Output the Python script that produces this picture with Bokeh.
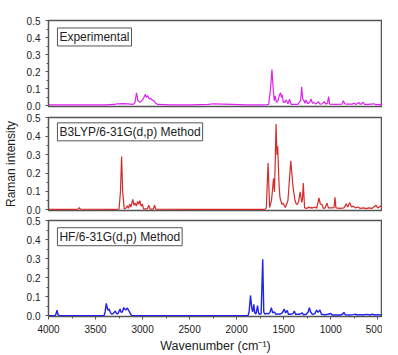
from bokeh.plotting import figure
from bokeh.layouts import column
from bokeh.models import Range1d, FixedTicker, Label, NumeralTickFormatter
from bokeh.embed import file_html
from bokeh.resources import INLINE

# ---------------- data ----------------
exp_wn = [4000, 3800, 3600, 3400, 3300, 3270, 3200, 3130, 3100, 3080, 3065, 3050, 3030, 3000,
          2985, 2970, 2960, 2945, 2930, 2915, 2900, 2880, 2860, 2840, 2700, 2500, 2300, 2250,
          2150, 2050, 1900, 1700, 1660, 1640, 1625, 1612, 1600, 1591, 1578, 1560, 1545, 1533,
          1525, 1516, 1505, 1490, 1472, 1455, 1438, 1420, 1350, 1320, 1309, 1298, 1285, 1274,
          1262, 1245, 1225, 1210, 1195, 1180, 1160, 1132, 1115, 1090, 1070, 1050, 1035, 1023,
          1012, 950, 880, 867, 850, 820, 770, 751, 735, 700, 690, 675, 656, 640, 600, 540,
          520, 500, 450]
exp_int = [0.005, 0.006, 0.005, 0.006, 0.008, 0.012, 0.013, 0.010, 0.008, 0.020, 0.077, 0.030,
           0.020, 0.035, 0.050, 0.068, 0.050, 0.060, 0.040, 0.045, 0.035, 0.030, 0.015, 0.008,
           0.006, 0.005, 0.008, 0.012, 0.010, 0.008, 0.005, 0.005, 0.008, 0.100, 0.213, 0.100,
           0.030, 0.058, 0.020, 0.030, 0.065, 0.077, 0.050, 0.065, 0.020, 0.020, 0.035, 0.012,
           0.039, 0.008, 0.008, 0.030, 0.112, 0.040, 0.030, 0.015, 0.035, 0.012, 0.020, 0.040,
           0.015, 0.020, 0.010, 0.025, 0.010, 0.012, 0.025, 0.010, 0.015, 0.054, 0.010, 0.008,
           0.010, 0.030, 0.012, 0.010, 0.010, 0.016, 0.008, 0.020, 0.010, 0.010, 0.022, 0.008,
           0.008, 0.012, 0.006, 0.008, 0.006]

b3_wn = [4000, 3700, 3685, 3672, 3660, 3300, 3250, 3235, 3223, 3212, 3195, 3175, 3162, 3150,
         3138, 3125, 3104, 3092, 3080, 3066, 3053, 3041, 3029, 3015, 3002, 2990, 2950, 2934,
         2920, 2885, 2873, 2860, 2500, 2000, 1700, 1685, 1666, 1650, 1630, 1608, 1598, 1581,
         1572, 1564, 1550, 1540, 1520, 1506, 1483, 1455, 1425, 1400, 1380, 1365, 1353, 1340,
         1325, 1309, 1300, 1292, 1278, 1250, 1235, 1220, 1205, 1190, 1170, 1150, 1125, 1110,
         1095, 1080, 1060, 1040, 1025, 1000, 965, 955, 945, 900, 860, 836, 820, 798, 780, 760,
         740, 710, 690, 650, 620, 600, 560, 520, 500, 470, 450]
b3_int = [0.002, 0.002, 0.004, 0.012, 0.003, 0.002, 0.004, 0.100, 0.290, 0.100, 0.005, 0.010,
          0.022, 0.008, 0.030, 0.015, 0.057, 0.025, 0.035, 0.020, 0.045, 0.030, 0.050, 0.020,
          0.030, 0.005, 0.005, 0.025, 0.004, 0.004, 0.025, 0.003, 0.002, 0.002, 0.002, 0.010,
          0.254, 0.012, 0.050, 0.170, 0.097, 0.466, 0.300, 0.346, 0.140, 0.067, 0.030, 0.036,
          0.012, 0.050, 0.266, 0.120, 0.050, 0.030, 0.030, 0.050, 0.097, 0.040, 0.060, 0.145,
          0.010, 0.008, 0.015, 0.010, 0.012, 0.010, 0.015, 0.008, 0.064, 0.030, 0.030, 0.008,
          0.010, 0.036, 0.010, 0.010, 0.012, 0.068, 0.010, 0.008, 0.010, 0.032, 0.015, 0.039,
          0.015, 0.020, 0.010, 0.015, 0.008, 0.010, 0.006, 0.010, 0.008, 0.025, 0.010, 0.020,
          0.010]

hf_wn = [4000, 3930, 3920, 3910, 3898, 3880, 3410, 3398, 3386, 3370, 3355, 3340, 3325, 3305,
         3290, 3277, 3264, 3252, 3240, 3228, 3215, 3200, 3190, 3179, 3168, 3162, 3150, 3138,
         3125, 3110, 2000, 1880, 1868, 1853, 1840, 1830, 1818, 1808, 1795, 1785, 1778, 1768,
         1758, 1740, 1723, 1712, 1700, 1680, 1660, 1645, 1631, 1618, 1600, 1585, 1560, 1540,
         1515, 1495, 1480, 1462, 1450, 1420, 1400, 1387, 1375, 1330, 1302, 1290, 1260, 1240,
         1227, 1214, 1195, 1170, 1150, 1135, 1115, 1100, 1060, 1030, 1000, 985, 900, 875, 860,
         845, 800, 760, 740, 720, 690, 660, 620, 580, 560, 530, 500, 450]
hf_int = [0.000, 0.000, 0.010, 0.030, 0.004, 0.000, 0.000, 0.020, 0.065, 0.030, 0.035, 0.015,
          0.008, 0.015, 0.025, 0.012, 0.010, 0.020, 0.035, 0.018, 0.020, 0.043, 0.035, 0.030,
          0.038, 0.040, 0.030, 0.020, 0.006, 0.000, 0.000, 0.000, 0.020, 0.107, 0.040, 0.020,
          0.060, 0.015, 0.010, 0.035, 0.053, 0.015, 0.008, 0.010, 0.298, 0.020, 0.008, 0.012,
          0.010, 0.020, 0.043, 0.015, 0.020, 0.008, 0.010, 0.008, 0.015, 0.035, 0.015, 0.028,
          0.008, 0.008, 0.012, 0.025, 0.008, 0.008, 0.015, 0.005, 0.008, 0.020, 0.043, 0.020,
          0.008, 0.010, 0.030, 0.018, 0.030, 0.008, 0.005, 0.008, 0.012, 0.004, 0.004, 0.008,
          0.018, 0.005, 0.004, 0.006, 0.008, 0.004, 0.006, 0.004, 0.007, 0.004, 0.008, 0.004,
          0.006, 0.004]

panel_titles = ["Experimental", "B3LYP/6-31G(d,p) Method", "HF/6-31G(d,p) Method"]
y_ticks = [0.0, 0.1, 0.2, 0.3, 0.4, 0.5]
y_minor = [0.05, 0.15, 0.25, 0.35, 0.45]
x_ticks = [4000, 3500, 3000, 2500, 2000, 1500, 1000, 500]
x_minor = [3750, 3250, 2750, 2250, 1750, 1250, 750]

FONT = "Liberation Sans"
x_range = Range1d(4000, 450)


def style_axis(ax):
    ax.axis_line_color = "#555555"
    ax.axis_line_width = 1
    ax.major_tick_line_color = "#555555"
    ax.minor_tick_line_color = "#555555"
    ax.major_tick_in = 0
    ax.major_tick_out = 3
    ax.minor_tick_in = 0
    ax.minor_tick_out = 2
    ax.major_label_text_font = FONT
    ax.major_label_text_font_size = "10px"
    ax.major_label_text_color = "#222222"
    ax.major_label_standoff = 5


def panel(xs, ys, color, lw, title, label_y, height, top, bottom, show_x=False, ylabel=None):
    p = figure(width=382, height=height, x_range=x_range,
               y_range=Range1d(-0.004, 0.502),
               output_backend="svg", toolbar_location=None,
               min_border_left=42, min_border_right=0,
               min_border_top=top, min_border_bottom=bottom,
               x_axis_location="below" if show_x else None)
    p.grid.visible = False
    p.outline_line_color = "#555555"
    p.outline_line_width = 1.5
    p.background_fill_color = "white"
    p.border_fill_color = "white"
    p.line(xs, ys, line_color=color, line_width=lw)
    p.yaxis.ticker = FixedTicker(ticks=y_ticks, minor_ticks=y_minor)
    p.yaxis.formatter = NumeralTickFormatter(format="0.0")
    style_axis(p.yaxis[0])
    if ylabel:
        p.yaxis.axis_label = ylabel
        p.yaxis.axis_label_text_font = FONT
        p.yaxis.axis_label_text_font_size = "12px"
        p.yaxis.axis_label_text_font_style = "normal"
        p.yaxis.axis_label_text_color = "#222222"
        p.yaxis.axis_label_standoff = 6
    if show_x:
        p.xaxis.ticker = FixedTicker(ticks=x_ticks, minor_ticks=x_minor)
        style_axis(p.xaxis[0])
        p.xaxis.major_label_standoff = 5
        p.xaxis.axis_label = "Wavenumber (cm\u207b\u00b9)"
        p.xaxis.axis_label_text_font = FONT
        p.xaxis.axis_label_text_font_size = "12.5px"
        p.xaxis.axis_label_text_font_style = "normal"
        p.xaxis.axis_label_text_color = "#222222"
        p.xaxis.axis_label_standoff = 3
    lab = Label(x=3905, y=label_y, text=title, text_font=FONT, text_font_size="12px",
                text_color="#222222", text_align="left", text_baseline="top",
                border_line_color="#555555", border_line_width=1,
                background_fill_color="white", padding=2)
    p.add_layout(lab)
    return p


p1 = panel(exp_wn, exp_int, "#dd22ee", 1.2, panel_titles[0], 0.458, 112, 20, 6)
p2 = panel(b3_wn, b3_int, "#d42a2a", 1.2, panel_titles[1], 0.473, 103, 5, 5,
           ylabel="Raman intensity")
p3 = panel(hf_wn, hf_int, "#2222ee", 1.4, panel_titles[2], 0.464, 140, 5, 37, show_x=True)

layout = column(p1, p2, p3, spacing=0)

open("out.html", "w").write(file_html(layout, INLINE))
